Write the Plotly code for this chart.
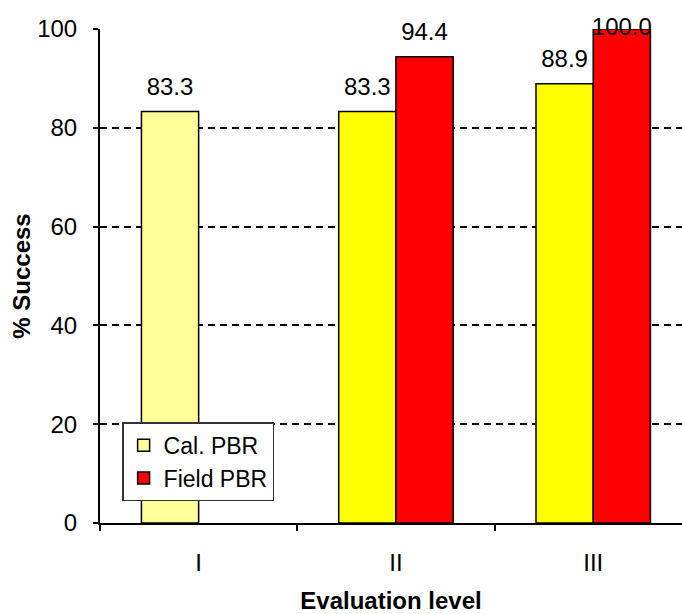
import plotly.graph_objects as go

niveis = ["I", "II", "III"]
cal_pbr = [83.3, 83.3, 88.9]
field_pbr = [None, 94.4, 100.0]
cores_cal = ["#FFFF99", "#FFFF00", "#FFFF00"]

FONTE = "Arial, Liberation Sans, sans-serif"
Y_MAX = 100


def rotulos(valores):
    return ["" if v is None else f"{v:.1f}" for v in valores]


def posicoes(valores):
    # rotulo no topo do eixo fica sobre a linha, como no Excel
    return ["middle center" if v is not None and v >= Y_MAX else "top center" for v in valores]


fig = go.Figure()
fig.add_trace(go.Bar(
    x=niveis, y=cal_pbr, name="Cal. PBR", offsetgroup="cal",
    marker=dict(color=cores_cal, line=dict(color="black", width=1.5)),
))
fig.add_trace(go.Bar(
    x=niveis, y=field_pbr, name="Field PBR", offsetgroup="field",
    marker=dict(color="#FF0000", line=dict(color="black", width=1.5)),
))
for valores, grupo in [(cal_pbr, "cal"), (field_pbr, "field")]:
    fig.add_trace(go.Scatter(
        x=niveis, y=valores, offsetgroup=grupo, mode="markers+text",
        marker=dict(size=15, opacity=0), text=rotulos(valores),
        textposition=posicoes(valores), textfont=dict(size=24, color="black"),
        cliponaxis=False, showlegend=False, hoverinfo="skip",
    ))

fig.update_layout(
    width=682, height=614,
    margin=dict(l=100, r=0, t=29, b=91, autoexpand=False),
    barmode="group", bargap=0.42, bargroupgap=0,
    scattermode="group", scattergap=0.42,
    plot_bgcolor="white", paper_bgcolor="white",
    font=dict(family=FONTE, size=24, color="black"),
    legend=dict(
        x=0.038, y=0.204, xanchor="left", yanchor="top",
        bgcolor="white", bordercolor="#333333", borderwidth=1.5,
        font=dict(size=23), itemwidth=30,
    ),
)
fig.update_xaxes(
    type="category", range=[-0.5, 2.45], tickson="boundaries", automargin=False,
    ticks="outside", ticklen=6, tickwidth=1.5, tickcolor="black",
    showline=True, linecolor="black", linewidth=2, showgrid=False,
    ticklabelstandoff=17,
    title=dict(text="<b>Evaluation level</b>", font=dict(size=24), standoff=17),
)
fig.update_yaxes(
    range=[0, Y_MAX], dtick=20, automargin=True,
    ticks="outside", ticklen=5, tickwidth=1.5, tickcolor="black",
    showline=True, linecolor="black", linewidth=2, zeroline=False,
    showgrid=True, gridcolor="black", gridwidth=1.5, griddash="7px,5px",
    ticklabelstandoff=11,
    title=dict(text="<b>% Success</b>", font=dict(size=24), standoff=0),
)

fig.write_html("out.html", config={"displayModeBar": False},
               post_script="document.body.style.margin='0';")
